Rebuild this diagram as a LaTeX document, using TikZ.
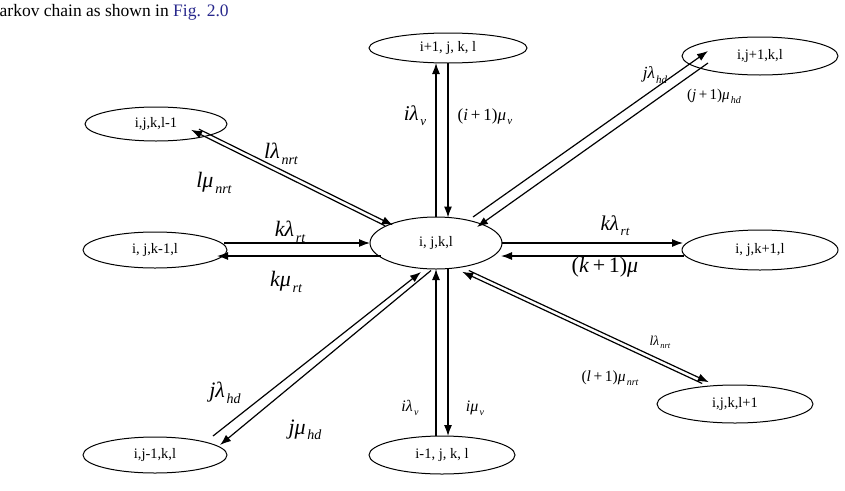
\documentclass[tikz,border=0pt]{standalone}
\usepackage{fontspec}
\setmainfont{Liberation Serif}
\usetikzlibrary{arrows.meta,calc,shapes.geometric}
\definecolor{figblue}{RGB}{40,40,140}
% rate label: #1 size, #2 subscript size, #3 main text, #4 subscript
\newcommand{\rateX}[4]{{\fontsize{#1}{#1}\selectfont #3\kern0.08em\raisebox{-0.25em}{\fontsize{#2}{#2}\selectfont\itshape #4}}}
\begin{document}
\begin{tikzpicture}[x=1pt,y=-1pt,
  state/.style={ellipse, draw, line width=1pt, inner sep=0pt, outer sep=0pt, font=\fontsize{14.5}{16}\selectfont},
  arr/.style={line width=1.2pt, -{Latex[length=11pt,width=8pt]}},
  lab/.style={inner sep=0pt}]
\useasboundingbox (0,0) rectangle (845,490);

\node[anchor=base west, inner sep=0pt, font=\fontsize{17.5}{20}\selectfont] (cap) at (-0.5,16) {arkov chain as shown in \textcolor{figblue}{Fig. 2.0}};

\node[state, minimum width=158, minimum height=30] (T)  at (448,48)  {i+1, j, k, l};
\node[state, minimum width=156, minimum height=38] (TR) at (760,56)  {i,j+1,k,l};
\node[state, minimum width=142, minimum height=34] (TL) at (156,124) {i,j,k,l-1};
\node[state, minimum width=144, minimum height=36] (L)  at (155,250) {i, j,k-1,l};
\node[state, minimum width=132, minimum height=52] (C)  at (436,243) {i, j,k,l};
\node[state, minimum width=156, minimum height=40] (R)  at (760,250) {i, j,k+1,l};
\node[state, minimum width=144, minimum height=36] (BL) at (155,455) {i,j-1,k,l};
\node[state, minimum width=146, minimum height=38] (B)  at (442,455) {i-1, j, k, l};
\node[state, minimum width=156, minimum height=38] (BR) at (735,404) {i,j,k,l+1};

% vertical top
\draw[arr] ($(C)+(0,-26)$) -- ($(T)+(-12,15)$);
\draw[arr] ($(T)+(0,15)$) -- ($(C)+(12,-25.5)$);
% vertical bottom
\draw[arr] ($(B)+(-6,-19)$) -- ($(C)+(0,26)$);
\draw[arr] ($(C)+(12,25.5)$) -- ($(B)+(6,-19)$);
% horizontal left
\draw[arr] ($(L)+(69,-7)$) -- ($(C)+(-66,0)$);
\draw[arr] ($(C)+(-55,13)$) -- ($(L)+(62,6)$);
% horizontal right
\draw[arr] ($(C)+(66,0)$) -- ($(R)+(-77,-7)$);
\draw[arr] ($(R)+(-76,6)$) -- ($(C)+(65,13)$);
% top right diagonal
\draw[arr] ($(C)+(37,-26)$) -- ($(TR)+(-52,-5)$);
\draw[arr] ($(TR)+(-52,7)$) -- ($(C)+(41,-16)$);
% top left diagonal
\draw[arr] ($(TL)+(43,5.2)$) -- ($(C)+(-43,-17.8)$);
\draw[arr] ($(C)+(-50.9,-17.2)$) -- ($(TL)+(35.1,5.8)$);
% bottom left diagonal
\draw[arr] ($(BL)+(58,-19)$) -- ($(C)+(-15,29)$);
\draw[arr] ($(C)+(-5,27.5)$) -- ($(BL)+(65,-10)$);
% bottom right diagonal
\draw[arr] ($(C)+(32.8,27.5)$) -- ($(BR)+(-26.2,-21.8)$);
\draw[arr] ($(BR)+(-32.8,-20.5)$) -- ($(C)+(26.2,28.8)$);

% labels
\node[lab] (a1)  at (415,116) {\rateX{21}{13}{\textit{iλ}}{v}};
\node[lab] (a2)  at (485,117) {\rateX{17}{11}{(\textit{i}\,+\,1)\textit{μ}}{v}};
\node[lab] (a3)  at (655,75)  {\rateX{17}{11}{\textit{jλ}}{hd}};
\node[lab] (a4)  at (714,96)  {\rateX{15}{10}{(\textit{j}\,+\,1)\textit{μ}}{hd}};
\node[lab] (a5)  at (281,154) {\rateX{22}{14}{\textit{lλ}}{nrt}};
\node[lab] (a6)  at (214,183) {\rateX{22}{14}{\textit{lμ}}{nrt}};
\node[lab] (a7)  at (290,232) {\rateX{22}{14}{\textit{kλ}}{rt}};
\node[lab] (a8)  at (286,282) {\rateX{22}{14}{\textit{kμ}}{rt}};
\node[lab] (a9)  at (615,226) {\rateX{21}{13}{\textit{kλ}}{rt}};
\node[lab] (a10) at (605,267) {{\fontsize{22}{22}\selectfont (\textit{k}\,+\,1)\textit{μ}}};
\node[lab] (a11) at (225,393) {\rateX{22}{14}{\textit{jλ}}{hd}};
\node[lab] (a12) at (305,430) {\rateX{22}{14}{\textit{jμ}}{hd}};
\node[lab] (a13) at (410,408) {\rateX{16}{10}{\textit{iλ}}{v}};
\node[lab] (a14) at (475,408) {\rateX{16}{10}{\textit{iμ}}{v}};
\node[lab] (a15) at (660,342) {\rateX{13.5}{8.5}{\textit{lλ}}{nrt}};
\node[lab] (a16) at (610,378) {\rateX{15.5}{10}{(\textit{l}\,+\,1)\textit{μ}}{nrt}};
\end{tikzpicture}
\end{document}
